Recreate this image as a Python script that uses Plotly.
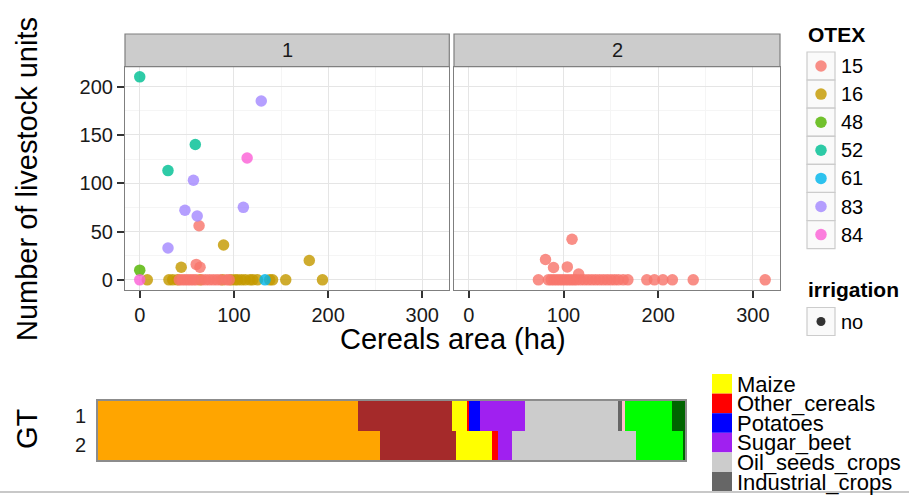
import plotly.graph_objects as go

W, H = 909, 495
FONT = "Liberation Sans, Arial, Helvetica, sans-serif"

# ---------------- data ----------------
otex_levels = ["15", "16", "48", "52", "61", "83", "84"]
otex_colors = ["#F8766D", "#C49A00", "#53B400", "#00C094", "#00B6EB", "#A58AFF", "#FB61D7"]

# facet "1"
f1_otex16_x = [89, 180, 44, 8, 31, 35, 40, 64, 88, 97, 101, 104, 108, 112, 117, 120, 125, 138, 141, 155, 194]
f1_otex16_y = [36, 20, 13, 0, 0, 0, 0, 0, 0, 0, 0, 0, 0, 0, 0, 0, 0, 0, 0, 0, 0]
f1_otex15_x = [63, 60, 64, 42, 45, 48, 51, 54, 57, 60, 66, 70, 74, 78, 82, 86, 92, 95]
f1_otex15_y = [56, 16, 13, 0, 0, 0, 0, 0, 0, 0, 0, 0, 0, 0, 0, 0, 0, 0]
f1_otex48_x = [0]
f1_otex48_y = [10]
f1_otex52_x = [0, 59, 30]
f1_otex52_y = [210, 140, 113]
f1_otex61_x = [133]
f1_otex61_y = [0]
f1_otex83_x = [129, 57, 48, 61, 110, 30]
f1_otex83_y = [185, 103, 72, 66, 75, 33]
f1_otex84_x = [114, 0]
f1_otex84_y = [126, 0]

# facet "2"
f2_otex15_x = [109, 81, 89.5, 104, 116, 73.5,
               84, 87, 90, 93, 96, 99, 102, 105, 108, 111, 114, 118, 122, 126,
               130, 134, 138, 142, 146, 150, 154, 158, 163, 168,
               188, 196, 205, 215, 237, 313]
f2_otex15_y = [42, 21, 12.8, 13.4, 6, 0,
               0, 0, 0, 0, 0, 0, 0, 0, 0, 0, 0, 0, 0, 0,
               0, 0, 0, 0, 0, 0, 0, 0, 0, 0,
               0, 0, 0, 0, 0, 0]

facet_labels = ["1", "2"]
x_ticks = [0, 100, 200, 300]
y_ticks = [0, 50, 100, 150, 200]
irrigation_levels = ["no"]

# bottom stacked bar (share of area per crop, per GT)
gt_levels = ["1", "2"]
crops = ["Soft_wheat", "Barley", "Maize", "Other_cereals", "Potatoes", "Sugar_beet",
         "Oil_seeds_crops", "Industrial_crops", "Other_crops", "Temporary_grass", "Permanent_grass"]
crop_colors = ["#FFA500", "#A52A2A", "#FFFF00", "#FF0000", "#0000FF", "#A020F0",
               "#CCCCCC", "#666666", "#FFC0CB", "#00FF00", "#006400"]
share_gt1 = [0.443, 0.160, 0.027, 0.002, 0.018, 0.077, 0.158, 0.007, 0.005, 0.080, 0.023]
share_gt2 = [0.480, 0.130, 0.062, 0.010, 0.000, 0.023, 0.212, 0.000, 0.000, 0.080, 0.003]
crop_legend = ["Maize", "Other_cereals", "Potatoes", "Sugar_beet", "Oil_seeds_crops", "Industrial_crops"]

# ---------------- helpers ----------------
def px(x):
    return x / W

def py(y):
    return 1 - y / H

fig = go.Figure()

facet_data = {
    "1": [("16", f1_otex16_x, f1_otex16_y), ("15", f1_otex15_x, f1_otex15_y),
          ("48", f1_otex48_x, f1_otex48_y), ("52", f1_otex52_x, f1_otex52_y),
          ("61", f1_otex61_x, f1_otex61_y), ("83", f1_otex83_x, f1_otex83_y),
          ("84", f1_otex84_x, f1_otex84_y)],
    "2": [("15", f2_otex15_x, f2_otex15_y)],
}
axes_for = {"1": ("x", "y"), "2": ("x2", "y2")}
for fac, series in facet_data.items():
    xa, ya = axes_for[fac]
    for lev, xs, ys in series:
        col = otex_colors[otex_levels.index(lev)]
        fig.add_trace(go.Scatter(
            x=xs, y=ys, mode="markers", xaxis=xa, yaxis=ya,
            name=lev, showlegend=False,
            marker=dict(size=11.5, color=col, opacity=0.82, line=dict(width=0)),
        ))

# bars
for i, crop in enumerate(crops):
    fig.add_trace(go.Bar(
        y=gt_levels, x=[share_gt1[i], share_gt2[i]], orientation="h",
        xaxis="x3", yaxis="y3", name=crop, showlegend=False,
        marker=dict(color=crop_colors[i], line=dict(width=0)),
    ))

# ---------------- layout ----------------
panel_top, panel_bot = 66.7, 290
f1_l, f1_r = 125, 449.3
f2_l, f2_r = 454, 780
strip_top = 34

grid_major = "#E5E5E5"
grid_minor = "#F5F5F5"
border = "#7F7F7F"
tickfont = dict(family=FONT, size=20, color="#1a1a1a")

def xaxis_cfg(dom):
    return dict(domain=dom, range=[-15.65, 328.65], tickvals=x_ticks, ticks="outside",
                ticklen=7, tickcolor="#333333", tickwidth=1.5, tickfont=tickfont,
                showgrid=True, gridcolor=grid_major, gridwidth=1.2,
                minor=dict(tickvals=[50, 150, 250], showgrid=True, gridcolor=grid_minor, ticks=""),
                showline=True, mirror=True, linecolor=border, linewidth=1.2, zeroline=False)

def yaxis_cfg(anchor, labels):
    return dict(domain=[py(panel_bot), py(panel_top)], range=[-10.5, 220.5], tickvals=y_ticks,
                ticks="outside" if labels else "", ticklen=7, tickcolor="#333333", tickwidth=1.5,
                showticklabels=labels, tickfont=tickfont, anchor=anchor,
                showgrid=True, gridcolor=grid_major, gridwidth=1.2,
                minor=dict(tickvals=[25, 75, 125, 175], showgrid=True, gridcolor=grid_minor, ticks=""),
                showline=True, mirror=True, linecolor=border, linewidth=1.2, zeroline=False)

layout = dict(
    width=W, height=H, autosize=False,
    margin=dict(l=0, r=0, t=0, b=0),
    paper_bgcolor="white", plot_bgcolor="white",
    font=dict(family=FONT, color="#000000"),
    showlegend=False,
    barmode="stack", bargap=0,
    xaxis=dict(xaxis_cfg([px(f1_l), px(f1_r)]), anchor="y"),
    yaxis=yaxis_cfg("x", True),
    xaxis2=dict(xaxis_cfg([px(f2_l), px(f2_r)]), anchor="y2"),
    yaxis2=yaxis_cfg("x2", False),
    xaxis3=dict(domain=[px(98), px(685)], range=[0, 1], anchor="y3", showticklabels=False,
                ticks="", showgrid=False, zeroline=False, showline=True, mirror=True,
                linecolor="#8C8C8C", linewidth=2),
    yaxis3=dict(domain=[py(460), py(401)], type="category", categoryorder="array",
                categoryarray=["2", "1"], anchor="x3", ticks="", showgrid=False,
                tickfont=tickfont, ticklabelstandoff=6, showline=True, mirror=True,
                linecolor="#8C8C8C", linewidth=2),
)
fig.update_layout(**layout)

shapes = []
annotations = []

# strips
for lab, (l, r) in zip(facet_labels, [(f1_l, f1_r), (f2_l, f2_r)]):
    shapes.append(dict(type="rect", xref="paper", yref="paper", x0=px(l), x1=px(r),
                       y0=py(panel_top), y1=py(strip_top), fillcolor="#CCCCCC",
                       line=dict(color=border, width=1.2), layer="above"))
    annotations.append(dict(xref="paper", yref="paper", x=px((l + r) / 2), y=py((strip_top + panel_top) / 2),
                            text=lab, showarrow=False, font=dict(family=FONT, size=20, color="#1a1a1a"),
                            xanchor="center", yanchor="middle"))

# axis titles
annotations.append(dict(xref="paper", yref="paper", x=px(453), y=py(339), text="Cereals area (ha)",
                        showarrow=False, font=dict(family=FONT, size=29), xanchor="center", yanchor="middle"))
annotations.append(dict(xref="paper", yref="paper", x=px(27), y=py(179), text="Number of livestock units",
                        textangle=-90, showarrow=False, font=dict(family=FONT, size=29),
                        xanchor="center", yanchor="middle"))
annotations.append(dict(xref="paper", yref="paper", x=px(27), y=py(429), text="GT",
                        textangle=-90, showarrow=False, font=dict(family=FONT, size=29),
                        xanchor="center", yanchor="middle"))

# OTEX legend (manual, ggplot-like keys)
annotations.append(dict(xref="paper", yref="paper", x=px(806), y=py(34), text="<b>OTEX</b>",
                        showarrow=False, font=dict(family=FONT, size=21), xanchor="left", yanchor="middle"))
key_l, key_r = 807, 835
for i, (lev, col) in enumerate(zip(otex_levels, otex_colors)):
    cy = 66 + 28.1 * i
    shapes.append(dict(type="rect", xref="paper", yref="paper", x0=px(key_l), x1=px(key_r),
                       y0=py(cy + 14), y1=py(cy - 14), fillcolor="#FAFAFA",
                       line=dict(color="#CCCCCC", width=1.2)))
    d = 11.5
    shapes.append(dict(type="circle", xref="paper", yref="paper", x0=px(821 - d / 2), x1=px(821 + d / 2),
                       y0=py(cy + d / 2), y1=py(cy - d / 2), fillcolor=col, opacity=0.82,
                       line=dict(width=0)))
    annotations.append(dict(xref="paper", yref="paper", x=px(839), y=py(cy), text=lev,
                            showarrow=False, font=dict(family=FONT, size=20), xanchor="left", yanchor="middle"))

# irrigation legend
annotations.append(dict(xref="paper", yref="paper", x=px(806), y=py(289), text="<b>irrigation</b>",
                        showarrow=False, font=dict(family=FONT, size=21), xanchor="left", yanchor="middle"))
for i, lev in enumerate(irrigation_levels):
    cy = 321.5 + 28.1 * i
    shapes.append(dict(type="rect", xref="paper", yref="paper", x0=px(key_l), x1=px(key_r),
                       y0=py(cy + 14), y1=py(cy - 14), fillcolor="#FAFAFA",
                       line=dict(color="#CCCCCC", width=1.2)))
    d = 9
    shapes.append(dict(type="circle", xref="paper", yref="paper", x0=px(821 - d / 2), x1=px(821 + d / 2),
                       y0=py(cy + d / 2), y1=py(cy - d / 2), fillcolor="#333333", line=dict(width=0)))
    annotations.append(dict(xref="paper", yref="paper", x=px(839), y=py(cy), text=lev,
                            showarrow=False, font=dict(family=FONT, size=20), xanchor="left", yanchor="middle"))

# crop legend (bottom)
for i, crop in enumerate(crop_legend):
    col = crop_colors[crops.index(crop)]
    top = 374 + 19.6 * i
    shapes.append(dict(type="rect", xref="paper", yref="paper", x0=px(712), x1=px(732),
                       y0=py(top + 19.6), y1=py(top), fillcolor=col, line=dict(width=0)))
    annotations.append(dict(xref="paper", yref="paper", x=px(735), y=py(top + 10), text=crop,
                            showarrow=False, font=dict(family=FONT, size=22), xanchor="left", yanchor="middle"))

# bottom rule line of the picture
shapes.append(dict(type="line", xref="paper", yref="paper", x0=0, x1=1, y0=py(492), y1=py(492),
                   line=dict(color="#C8C8C8", width=2), layer="above"))

fig.update_layout(shapes=shapes, annotations=annotations)
fig.write_html("out.html")
